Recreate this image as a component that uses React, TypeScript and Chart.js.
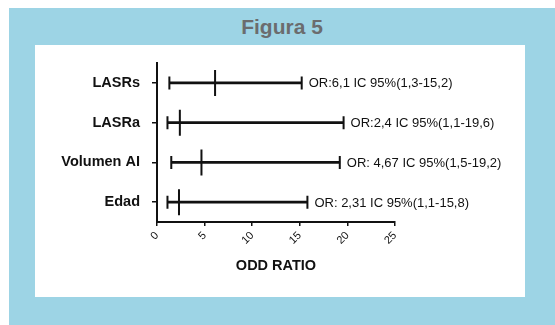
import React, { useEffect, useRef } from "react";
import { Chart, registerables } from "chart.js";

Chart.register(...registerables);

const categories = ["LASRs", "LASRa", "Volumen AI", "Edad"];
const oddRatios = [6.1, 2.4, 4.67, 2.31];
const lowerCI = [1.3, 1.1, 1.5, 1.1];
const upperCI = [15.2, 19.6, 19.2, 15.8];
const annotations = [
  "OR:6,1 IC 95%(1,3-15,2)",
  "OR:2,4 IC 95%(1,1-19,6)",
  "OR: 4,67 IC 95%(1,5-19,2)",
  "OR: 2,31 IC 95%(1,1-15,8)",
];
const xTicks = [0, 5, 10, 15, 20, 25];

const FONT = "Arial, 'Liberation Sans', Helvetica, sans-serif";
const INK = "#111111";

const forestPlugin = {
  id: "forest",
  afterDatasetsDraw(chart: any) {
    const ctx = chart.ctx;
    const xs = chart.scales.x;
    const ys = chart.scales.y;
    ctx.save();
    ctx.strokeStyle = INK;
    ctx.lineWidth = 2;
    ctx.fillStyle = INK;
    ctx.font = `13px ${FONT}`;
    ctx.textBaseline = "middle";
    ctx.textAlign = "left";
    categories.forEach((_, i) => {
      const y = ys.getPixelForValue(i);
      const xl = xs.getPixelForValue(lowerCI[i]);
      const xh = xs.getPixelForValue(upperCI[i]);
      const xo = xs.getPixelForValue(oddRatios[i]);
      ctx.beginPath();
      ctx.moveTo(xl, y - 6.5);
      ctx.lineTo(xl, y + 6.5);
      ctx.moveTo(xh, y - 6.5);
      ctx.lineTo(xh, y + 6.5);
      ctx.moveTo(xo, y - 13);
      ctx.lineTo(xo, y + 13);
      ctx.stroke();
      ctx.fillText(annotations[i], xh + 7, y + 1);
    });
    ctx.restore();
  },
};

export default function App() {
  const ref = useRef<HTMLCanvasElement | null>(null);

  useEffect(() => {
    if (!ref.current) return;
    const chart = new Chart(ref.current, {
      type: "bar",
      data: {
        labels: categories,
        datasets: [
          {
            data: lowerCI.map((l, i) => [l, upperCI[i]]) as any,
            backgroundColor: INK,
            borderWidth: 0,
            barThickness: 2,
          },
        ],
      },
      options: {
        indexAxis: "y",
        responsive: false,
        animation: false,
        layout: { padding: { top: 18, right: 130, left: 0, bottom: 0 } },
        plugins: {
          legend: { display: false },
          tooltip: { enabled: false },
          title: { display: false },
        },
        scales: {
          x: {
            type: "linear",
            min: 0,
            max: 25,
            afterBuildTicks: (scale: any) => {
              scale.ticks = xTicks.map((v) => ({ value: v }));
            },
            ticks: {
              font: { size: 11, family: FONT },
              color: INK,
              minRotation: 45,
              maxRotation: 45,
              padding: 3,
            },
            grid: {
              drawOnChartArea: false,
              drawTicks: true,
              tickLength: 4,
              color: INK,
              lineWidth: 1.5,
            },
            border: { color: INK, width: 2 },
            title: {
              display: true,
              text: "ODD RATIO",
              color: INK,
              font: { size: 14.5, weight: "bold", family: FONT },
              padding: { top: 0, bottom: 22 },
            },
            afterFit: (scale: any) => {
              scale.height = 75;
            },
          },
          y: {
            type: "category",
            offset: true,
            ticks: {
              font: { size: 14.5, weight: "bold", family: FONT },
              color: INK,
              padding: 12,
            },
            grid: {
              drawOnChartArea: false,
              drawTicks: true,
              tickLength: 5,
              color: INK,
              lineWidth: 1.5,
              offset: false,
            },
            border: { color: INK, width: 2 },
            afterFit: (scale: any) => {
              scale.width = 122;
              scale.paddingTop = 0;
              scale.paddingBottom = 0;
            },
          },
        },
      } as any,
      plugins: [forestPlugin],
    });
    return () => chart.destroy();
  }, []);

  return (
    <div
      style={{
        position: "fixed",
        left: 9,
        top: 8,
        right: 0,
        bottom: 0,
        background: "#9dd4e5",
      }}
    >
      <div
        style={{
          position: "absolute",
          left: 0,
          right: 0,
          top: 7.6,
          textAlign: "center",
          fontFamily: FONT,
          fontWeight: "bold",
          fontSize: 21,
          lineHeight: 1,
          color: "#6b6c6e",
        }}
      >
        Figura 5
      </div>
      <div
        style={{
          position: "absolute",
          left: 26,
          top: 37,
          width: 490,
          height: 252,
          background: "#ffffff",
        }}
      >
        <canvas ref={ref} width={490} height={252} style={{ display: "block" }} />
      </div>
    </div>
  );
}
